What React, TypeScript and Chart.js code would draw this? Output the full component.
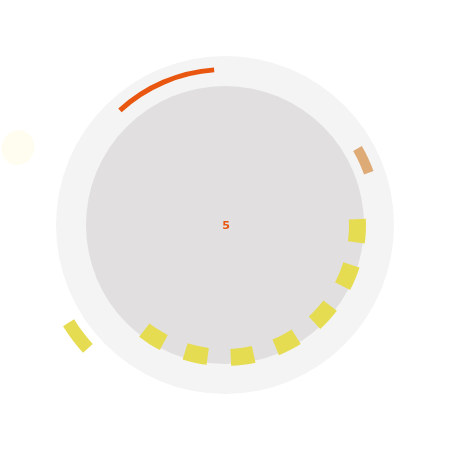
import { useEffect, useRef } from "react"
import { Chart, registerables } from "chart.js"

Chart.register(...registerables)

// angles in degrees, clockwise from 12 o'clock
const progressArc: [number, number] = [317.5, 356]
const markerArc: [number, number] = [60, 70]
const tickCenters = [92.5, 112.5, 132.5, 152.5, 172.5, 192.5, 212.5]
const tickWidth = 10
const pointerArc: [number, number] = [228, 238]
const dotArc: [number, number] = [286, 295]
const centerValue = "5"

const SIZE = 450

type Span = [number, number]

// turn spans into doughnut slices with transparent gaps between them
function buildSlices(spans: Span[], color: string) {
  const data: number[] = []
  const colors: string[] = []
  let pos = 0
  for (const [start, end] of [...spans].sort((a, b) => a[0] - b[0])) {
    if (start > pos) {
      data.push(start - pos)
      colors.push("rgba(0,0,0,0)")
    }
    data.push(end - start)
    colors.push(color)
    pos = end
  }
  if (pos < 360) {
    data.push(360 - pos)
    colors.push("rgba(0,0,0,0)")
  }
  return { data, colors }
}

function RingLayer({
  spans,
  color,
  outer,
  inner,
  rounded = 0,
}: {
  spans: Span[]
  color: string
  outer: number
  inner: number
  rounded?: number
}) {
  const canvasRef = useRef<HTMLCanvasElement>(null)

  useEffect(() => {
    if (!canvasRef.current) return
    const { data, colors } = buildSlices(spans, color)
    const chart = new Chart(canvasRef.current, {
      type: "doughnut",
      data: {
        labels: data.map((_, i) => String(i)),
        datasets: [
          {
            data,
            backgroundColor: colors,
            borderWidth: 0,
            borderRadius: rounded,
          },
        ],
      },
      options: {
        responsive: false,
        animation: false,
        events: [],
        radius: outer,
        cutout: `${(inner / outer) * 100}%`,
        layout: { padding: 0 },
        plugins: {
          legend: { display: false },
          tooltip: { enabled: false },
        },
      },
    })
    return () => chart.destroy()
  }, [spans, color, outer, inner, rounded])

  return (
    <canvas
      ref={canvasRef}
      width={SIZE}
      height={SIZE}
      style={{ position: "absolute", left: 0, top: 0, width: SIZE, height: SIZE }}
    />
  )
}

const full: Span[] = [[0, 360]]
const ticks: Span[] = tickCenters.map((c) => [c - tickWidth / 2, c + tickWidth / 2])

export default function App() {
  return (
    <div
      style={{
        position: "absolute",
        left: 0,
        top: 0,
        width: SIZE,
        height: SIZE,
        background: "#ffffff",
      }}
    >
      <RingLayer spans={full} color="#f4f4f4" outer={169} inner={0} />
      <RingLayer spans={full} color="#e1dfe0" outer={139} inner={0} />
      <RingLayer spans={[progressArc]} color="#e8560f" outer={158} inner={153} />
      <RingLayer spans={[markerArc]} color="#deaa76" outer={158} inner={148} />
      <RingLayer spans={ticks} color="#e6dc52" outer={141} inner={124} />
      <RingLayer spans={[pointerArc]} color="#e6dc52" outer={191} inner={178} />
      <RingLayer spans={[dotArc]} color="#fffdf0" outer={237} inner={205} rounded={16} />
      <div
        style={{
          position: "absolute",
          left: 0,
          top: 0,
          width: SIZE,
          height: SIZE,
          display: "flex",
          alignItems: "center",
          justifyContent: "center",
          fontFamily: "'DejaVu Sans', sans-serif",
          fontWeight: "bold",
          fontSize: 11,
          color: "#e8560f",
          pointerEvents: "none",
        }}
      >
        <span style={{ marginLeft: 2 }}>{centerValue}</span>
      </div>
    </div>
  )
}
